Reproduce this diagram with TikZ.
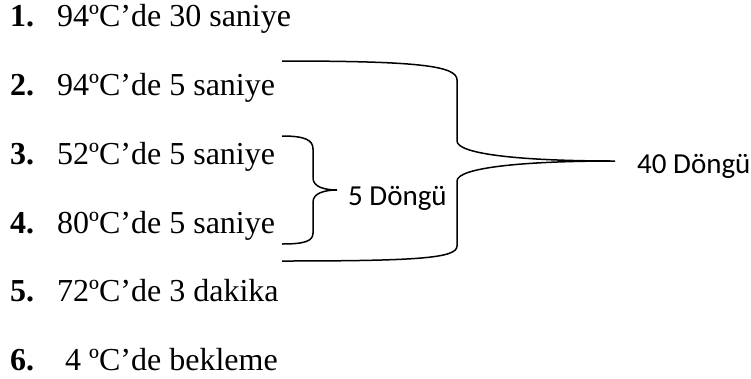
\documentclass[tikz,border=0pt]{standalone}
\usepackage{fontspec}
\setmainfont{Liberation Serif}
\newfontfamily\calfont{Carlito}
\begin{document}
\begin{tikzpicture}[x=1bp,y=-1bp,
  num/.style={anchor=base west,inner sep=0pt,font=\fontsize{32bp}{36bp}\selectfont\bfseries},
  row/.style={anchor=base west,inner sep=0pt,font=\fontsize{32bp}{36bp}\selectfont},
  lab/.style={anchor=base west,inner sep=0pt,font=\calfont\fontsize{29bp}{34bp}\selectfont},
  brace/.style={draw=black,line width=1.5bp}]
\useasboundingbox (0,0) rectangle (751,378);
\foreach \i/\b/\t in {1/26/{94ºC’de 30 saniye},2/95/{94ºC’de 5 saniye},3/164/{52ºC’de 5 saniye},4/233/{80ºC’de 5 saniye},5/301/{72ºC’de 3 dakika},6/370/{\ 4 ºC’de bekleme}}{
  \node[num] (n\i) at (10,\b) {\i.};
  \node[row] (t\i) at (57,\b) {\t};
}
\node[lab] (c5) at (348,205) {5 Döngü};
\node[lab] (c40) at (637,173) {40 Döngü};
\coordinate (bigtip) at (615,161);
\coordinate (smalltip) at (337,190);
\path[brace] (282,61) .. controls (420,61) and (457,66) .. (457,80) -- (457,141)
  .. controls (457,154) and (520,161) .. (bigtip)
  .. controls (520,161) and (457,168) .. (457,181) -- (457,246)
  .. controls (457,258) and (420,261) .. (282,261);
\path[brace] (282,136) .. controls (305,136) and (313,140) .. (313,149) -- (313,178)
  .. controls (313,187) and (325,190) .. (smalltip)
  .. controls (325,190) and (313,193) .. (313,202) -- (313,233)
  .. controls (313,241) and (305,244) .. (282,244);
\end{tikzpicture}
\end{document}
